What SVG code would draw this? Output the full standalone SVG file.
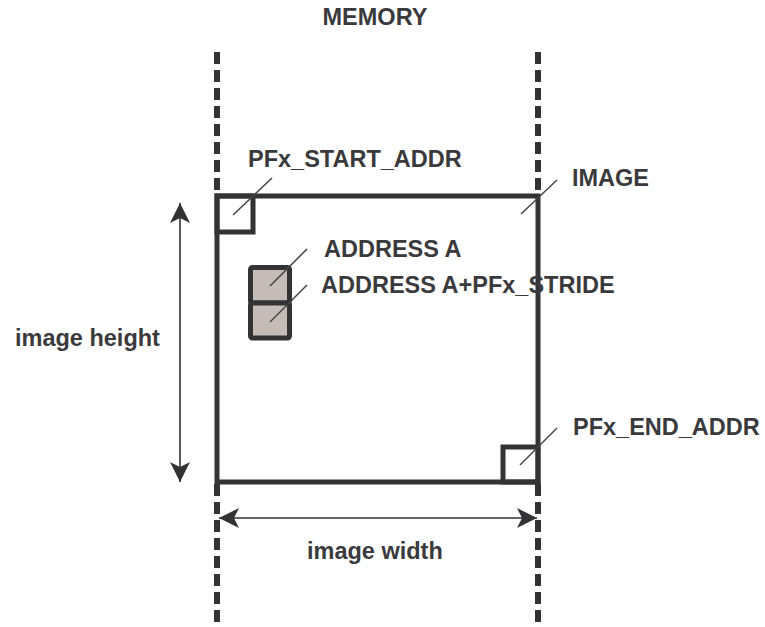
<svg xmlns="http://www.w3.org/2000/svg" width="765" height="627" viewBox="0 0 765 627">
<style>
.t{font-family:"Liberation Sans",Arial,sans-serif;font-weight:bold;font-size:23.5px;fill:#3a3a3c}
.thick{fill:none;stroke:#333336;stroke-width:5}
.dash{fill:none;stroke:#333336;stroke-width:6;stroke-dasharray:12 6}
.lead{fill:none;stroke:#444;stroke-width:1.5}
.dim{fill:none;stroke:#333336;stroke-width:1.6}
.cell{fill:#c5bcb7;stroke:#333336;stroke-width:5}
</style>
<defs>
<marker id="ah" viewBox="0 0 20 20" refX="20" refY="10" markerWidth="20" markerHeight="20" markerUnits="userSpaceOnUse" orient="auto-start-reverse">
<path d="M0,0 L20,10 L0,20 L5,10 Z" fill="#333336"/>
</marker>
</defs>
<rect width="765" height="627" fill="#fff"/>
<g id="memory">
<text class="t" x="375" y="25" text-anchor="middle">MEMORY</text>
<line class="dash" x1="217" y1="52" x2="217" y2="196"/>
<line class="dash" x1="538" y1="52" x2="538" y2="196"/>
<line class="dash" x1="217" y1="484" x2="217" y2="627"/>
<line class="dash" x1="538" y1="484" x2="538" y2="627"/>
</g>
<g id="image">
<rect class="thick" x="217" y="196" width="321" height="286"/>
<text class="t" x="572" y="186">IMAGE</text>
</g>
<g id="start-addr">
<rect class="thick" x="217" y="196" width="36" height="36"/>
<text class="t" x="248" y="167">PFx_START_ADDR</text>
</g>
<g id="end-addr">
<rect class="thick" x="503" y="447" width="35" height="35"/>
<text class="t" x="573" y="435">PFx_END_ADDR</text>
</g>
<g id="cells">
<rect class="cell" x="250.5" y="267.5" width="39" height="35.5" rx="2"/>
<rect class="cell" x="250.5" y="303" width="39" height="35" rx="2"/>
<text class="t" x="324" y="257">ADDRESS A</text>
<text class="t" x="321" y="293">ADDRESS A+PFx_STRIDE</text>
</g>
<g id="dimensions">
<line class="dim" x1="180" y1="203" x2="180" y2="482" marker-start="url(#ah)" marker-end="url(#ah)"/>
<text class="t" x="15" y="346">image height</text>
<line class="dim" x1="219" y1="518" x2="537" y2="518" marker-start="url(#ah)" marker-end="url(#ah)"/>
<text class="t" x="307" y="559">image width</text>
</g>
<g id="connectors">
<line class="lead" x1="233" y1="215" x2="272" y2="178"/>
<line class="lead" x1="521" y1="214" x2="557" y2="180"/>
<line class="lead" x1="270" y1="286" x2="307" y2="249"/>
<line class="lead" x1="270" y1="322" x2="307" y2="285"/>
<line class="lead" x1="520" y1="465" x2="557" y2="428"/>
</g>
</svg>
